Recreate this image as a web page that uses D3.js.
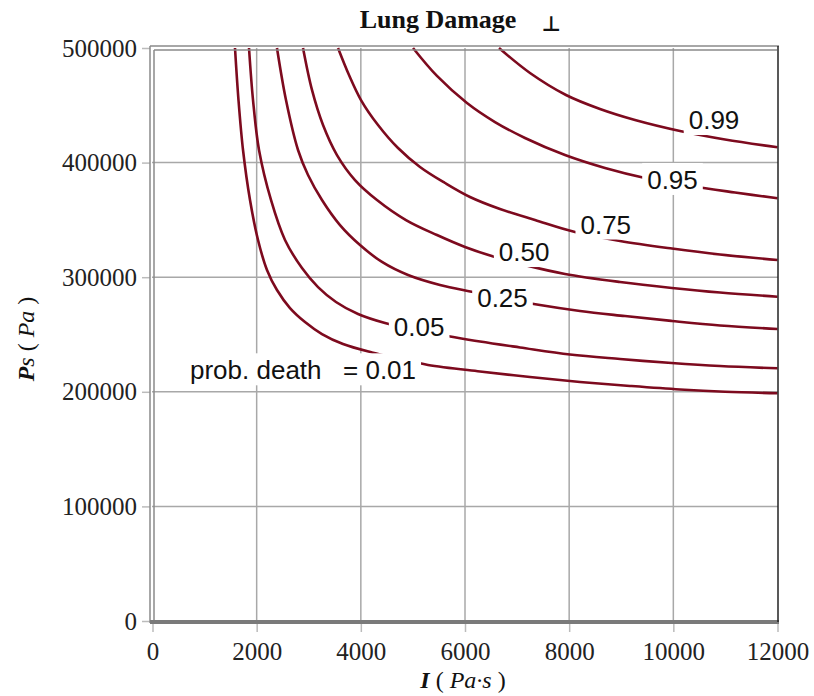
<!DOCTYPE html>
<html><head><meta charset="utf-8">
<script src="https://cdn.jsdelivr.net/npm/d3@7"></script>
<style>body{margin:0;background:#fff}</style>
</head><body>
<svg id="chart" width="814" height="696"></svg>
<script>
// ---- data ----
const xTicks = [0, 2000, 4000, 6000, 8000, 10000, 12000];
const yTicks = [0, 100000, 200000, 300000, 400000, 500000];
const levels = ["0.01", "0.05", "0.25", "0.50", "0.75", "0.95", "0.99"];

// contour lines: [I (Pa·s), Ps (Pa)]
const p001 = [[1584,500000],[1651,454600],[1738,411000],[1872,367400],[2026,332500],[2198,306300],[2390,288800],[2640,273100],[2928,260900],[3254,250400],[3658,241700],[4214,234300],[4752,228600],[5290,223400],[6288,217700],[7248,212900],[8208,208600],[9168,205100],[10128,202000],[10992,200000],[12000,198700]];
const p005 = [[1853,500000],[1930,454600],[2045,411000],[2275,367400],[2544,332500],[2870,308000],[3178,291400],[3523,278400],[3946,267900],[4464,260000],[5040,253900],[5674,248700],[6288,243900],[7056,238700],[8016,232500],[8976,228600],[9969,225100],[10896,222500],[12000,220500]];
const p025 = [[2390,500000],[2563,454600],[2794,411000],[2986,389200],[3254,367400],[3600,345500],[3984,328100],[4406,313300],[4906,301900],[5520,293200],[6154,287100],[6768,281400],[7440,275700],[8208,270500],[9072,266100],[9974,261800],[10896,257900],[12000,254800]];
const p050 = [[2890,500000],[3062,463400],[3274,432800],[3542,406600],[3888,384800],[4310,367400],[4867,349900],[5462,336800],[6000,326400],[6576,317600],[7152,310600],[7920,302800],[8976,295800],[9974,290600],[10896,286600],[12000,283000]];
const p075 = [[3562,500000],[3773,476400],[4003,454600],[4330,432800],[4714,412700],[5136,396200],[5616,382200],[6096,370000],[6672,359500],[7344,349900],[8112,339400],[8976,331600],[9974,325000],[10896,319800],[12000,315000]];
const p095 = [[5002,500000],[5462,475600],[6038,452000],[6576,435400],[7152,421500],[7920,406600],[8688,395300],[9456,386600],[10320,379600],[11184,373900],[12000,368900]];
const p099 = [[6653,500000],[7248,478200],[7939,459000],[8592,446800],[9264,437200],[10128,427600],[10992,420200],[12000,413400]];
const curves = [p001, p005, p025, p050, p075, p095, p099];

// contour label anchors (data coords, text baseline)
const labelText = ["= 0.01", "0.05", "0.25", "0.50", "0.75", "0.95", "0.99"];
const labelX = [3658, 5120, 6720, 7136, 8703, 9984, 10781];
const labelY = [210900, 248700, 274000, 314100, 338100, 377000, 429300];
const labelAnchor = ["start", "middle", "middle", "middle", "middle", "middle", "middle"];
const prefixText = "prob. death";
const prefixX = 720;

// ---- drawing ----
const svg = d3.select("#chart");
const x = d3.scaleLinear().domain([0, 12000]).range([152.5, 777.5]);
const y = d3.scaleLinear().domain([0, 500000]).range([621, 48]);
const serif = "'Liberation Serif','Times New Roman',serif";
const sans = "'Liberation Sans',Arial,sans-serif";

// grid
const grid = svg.append("g").attr("stroke", "#a8a8a8").attr("stroke-width", 1.5);
xTicks.filter(d => d > 0 && d < 12000).forEach(d => {
  grid.append("line").attr("x1", x(d)).attr("x2", x(d)).attr("y1", 48).attr("y2", 621);
});
yTicks.filter(d => d > 0 && d < 500000).forEach(d => {
  grid.append("line").attr("x1", 152).attr("x2", 778).attr("y1", y(d)).attr("y2", y(d));
});

// axes (ticks + labels)
const xAxis = d3.axisBottom(x).tickValues(xTicks).tickSize(9).tickPadding(10).tickFormat(d3.format("d"));
const gx = svg.append("g").attr("transform", "translate(0,623)").call(xAxis);
gx.select(".domain").remove();
gx.selectAll(".tick line").attr("stroke", "#bbb").attr("stroke-width", 1.5);
gx.selectAll(".tick text").attr("font-family", serif).attr("font-size", 25).attr("fill", "#222");

const yAxis = d3.axisLeft(y).tickValues(yTicks).tickSize(8).tickPadding(5).tickFormat(d3.format("d"));
const gy = svg.append("g").attr("transform", "translate(150,0)").call(yAxis);
gy.select(".domain").remove();
gy.selectAll(".tick line").attr("stroke", "#bbb").attr("stroke-width", 1.5);
gy.selectAll(".tick text").attr("font-family", serif).attr("font-size", 25).attr("fill", "#222");

// curves
const line = d3.line().x(d => x(d[0])).y(d => y(d[1])).curve(d3.curveCatmullRom.alpha(0.5));
svg.append("g").selectAll("path").data(curves).join("path")
  .attr("d", line).attr("fill", "none").attr("stroke", "#7d0a1e").attr("stroke-width", 2.6);

// contour labels with white boxes
const lg = svg.append("g");
labelText.forEach((t, i) => {
  const g = lg.append("g");
  const txt = g.append("text").attr("x", x(labelX[i])).attr("y", y(labelY[i]))
    .attr("text-anchor", labelAnchor[i]).attr("font-family", sans).attr("font-size", 26).attr("fill", "#111").text(t);
  let bb = txt.node().getBBox();
  if (i === 0) {
    const pre = g.append("text").attr("x", x(prefixX)).attr("y", y(labelY[i]))
      .attr("font-family", sans).attr("font-size", 26).attr("fill", "#111").text(prefixText);
    const pb = pre.node().getBBox();
    const x0 = pb.x, x1 = bb.x + bb.width;
    bb = {x: x0, y: bb.y, width: x1 - x0, height: bb.height};
  }
  g.insert("rect", "text").attr("x", bb.x - 5).attr("y", bb.y - 2).attr("width", bb.width + 10).attr("height", bb.height + 2).attr("fill", "#fff");
});

// frame
const fr = svg.append("g");
fr.append("line").attr("x1", 150).attr("x2", 150).attr("y1", 46).attr("y2", 623).attr("stroke", "#8a8a8a").attr("stroke-width", 1.5);
fr.append("line").attr("x1", 154).attr("x2", 154).attr("y1", 50).attr("y2", 621).attr("stroke", "#8a8a8a").attr("stroke-width", 1.5);
fr.append("line").attr("x1", 150).attr("x2", 779).attr("y1", 46).attr("y2", 46).attr("stroke", "#8a8a8a").attr("stroke-width", 1.5);
fr.append("line").attr("x1", 154).attr("x2", 777).attr("y1", 50).attr("y2", 50).attr("stroke", "#8a8a8a").attr("stroke-width", 1.5);
fr.append("line").attr("x1", 150).attr("x2", 779).attr("y1", 622).attr("y2", 622).attr("stroke", "#7a7a7a").attr("stroke-width", 4);
fr.append("line").attr("x1", 778).attr("x2", 778).attr("y1", 46).attr("y2", 622).attr("stroke", "#222").attr("stroke-width", 1.5);

// title
svg.append("text").attr("x", 438).attr("y", 28).attr("text-anchor", "middle")
  .attr("font-family", serif).attr("font-weight", "bold").attr("font-size", 26).attr("fill", "#111").text("Lung Damage");
svg.append("text").attr("x", 551).attr("y", 31).attr("text-anchor", "middle")
  .attr("font-family", "'DejaVu Sans',sans-serif").attr("font-weight", "bold").attr("font-size", 21).attr("fill", "#111").text("⊥");

// axis titles
const yt = svg.append("text").attr("transform", "translate(34,339) rotate(-90)").attr("text-anchor", "middle")
  .attr("font-family", serif).attr("font-size", 24).attr("fill", "#111");
yt.append("tspan").attr("font-weight", "bold").attr("font-style", "italic").text("P");
yt.append("tspan").attr("font-style", "italic").text("s");
yt.append("tspan").text(" ( ");
yt.append("tspan").attr("font-style", "italic").text("Pa");
yt.append("tspan").text(" )");

const xt = svg.append("text").attr("x", 463).attr("y", 688).attr("text-anchor", "middle")
  .attr("font-family", serif).attr("font-size", 24).attr("fill", "#111");
xt.append("tspan").attr("font-weight", "bold").attr("font-style", "italic").text("I");
xt.append("tspan").text("  ( ");
xt.append("tspan").attr("font-style", "italic").text("Pa·s");
xt.append("tspan").text(" )");
</script>
</body></html>
